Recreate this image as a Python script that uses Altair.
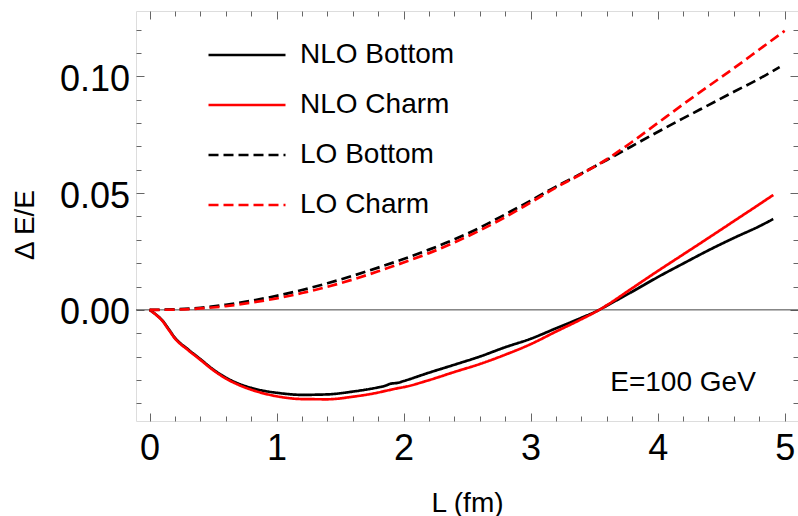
import altair as alt
import pandas as pd

# ---------------- data ----------------
SERIES = ["NLO Bottom", "NLO Charm", "LO Bottom", "LO Charm"]
COLORS = ["#000000", "#ff0000", "#000000", "#ff0000"]
DASHES = [[1, 0], [1, 0], [10, 5], [10, 5]]

L_NLO = [0.0, 0.05, 0.1, 0.15, 0.2, 0.3, 0.4, 0.5, 0.6, 0.7, 0.8, 0.9, 1.0, 1.2,
         1.4, 1.6, 1.8, 1.85, 1.9, 1.95, 2.0, 2.2, 2.4, 2.6, 2.8, 3.0, 3.2, 3.4,
         3.54, 3.6, 3.8, 4.0, 4.2, 4.4, 4.6, 4.8, 4.91]
NLO_BOTTOM = [0.0, -0.0020, -0.0045, -0.0082, -0.0120, -0.0168, -0.0211, -0.0255,
              -0.0290, -0.0316, -0.0334, -0.0347, -0.0355, -0.0364, -0.0362, -0.0350,
              -0.0332, -0.0326, -0.0316, -0.0313, -0.0305, -0.0269, -0.0235, -0.0200,
              -0.0160, -0.0124, -0.0079, -0.0034, 0.0, 0.0018, 0.0078, 0.0140, 0.0198,
              0.0255, 0.0308, 0.0358, 0.0389]
NLO_CHARM = [0.0, -0.0021, -0.0047, -0.0085, -0.0123, -0.0171, -0.0214, -0.0258,
             -0.0294, -0.0321, -0.0342, -0.0358, -0.0370, -0.0382, -0.0383, -0.0372,
             -0.0354, -0.0348, -0.0342, -0.0336, -0.0331, -0.0301, -0.0266, -0.0232,
             -0.0192, -0.0147, -0.0093, -0.0040, 0.0, 0.0020, 0.0093, 0.0166, 0.0237,
             0.0308, 0.0380, 0.0452, 0.0492]

L_LO_B = [0.0, 0.2, 0.4, 0.6, 0.8, 1.0, 1.2, 1.4, 1.6, 1.8, 2.0, 2.2, 2.4, 2.6, 2.8,
          3.0, 3.2, 3.4, 3.6, 3.8, 4.0, 4.2, 4.4, 4.6, 4.8, 4.96]
LO_BOTTOM = [0.0, 0.0002, 0.0009, 0.0022, 0.0039, 0.0060, 0.0085, 0.0114, 0.0146,
             0.0181, 0.0218, 0.0258, 0.0302, 0.0352, 0.0409, 0.0468, 0.0528, 0.0584,
             0.0642, 0.0702, 0.0762, 0.0820, 0.0877, 0.0934, 0.0990, 0.1040]
L_LO_C = [0.0, 0.2, 0.4, 0.6, 0.8, 1.0, 1.2, 1.4, 1.6, 1.8, 2.0, 2.2, 2.4, 2.6, 2.8,
          3.0, 3.2, 3.4, 3.6, 3.8, 4.0, 4.2, 4.4, 4.6, 4.8, 5.0]
LO_CHARM = [0.0, 0.0001, 0.0006, 0.0016, 0.0031, 0.0049, 0.0072, 0.0099, 0.0130,
            0.0165, 0.0203, 0.0243, 0.0289, 0.0340, 0.0397, 0.0460, 0.0524, 0.0582,
            0.0645, 0.0720, 0.0800, 0.0880, 0.0958, 0.1035, 0.1115, 0.1195]

X_MAJOR = [0, 1, 2, 3, 4, 5]
X_MINOR = [0.2, 0.4, 0.6, 0.8, 1.2, 1.4, 1.6, 1.8, 2.2, 2.4, 2.6, 2.8, 3.2, 3.4, 3.6,
           3.8, 4.2, 4.4, 4.6, 4.8]
Y_MAJOR = [0.0, 0.05, 0.10]
Y_MINOR = [-0.04, -0.03, -0.02, -0.01, 0.01, 0.02, 0.03, 0.04, 0.06, 0.07, 0.08,
           0.09, 0.11, 0.12]
X_TITLE = "L (fm)"
Y_TITLE = "Δ E/E"
ANNOTATION = ["E=100 GeV"]
ZERO = [0.0]

# ---------------- tables ----------------
rows = []
for name, xs, ys in [(SERIES[0], L_NLO, NLO_BOTTOM), (SERIES[1], L_NLO, NLO_CHARM),
                     (SERIES[2], L_LO_B, LO_BOTTOM), (SERIES[3], L_LO_C, LO_CHARM)]:
    for i, (a, b) in enumerate(zip(xs, ys)):
        rows.append({"series": name, "L": a, "v": b, "i": i})
df = pd.DataFrame(rows)
note_df = pd.DataFrame({"label": ANNOTATION})
zero_df = pd.DataFrame({"y0": ZERO})

FONT = "Liberation Sans"
TICK = "#666666"
X_SCALE = alt.Scale(domain=[-0.107, 5.105], nice=False, zero=False)
Y_SCALE = alt.Scale(domain=[-0.0476, 0.128], nice=False, zero=False)


def ax(orient, values, size, labels=False, **kw):
    return alt.Axis(orient=orient, values=values, offset=-size, tickSize=size,
                    tickColor=TICK, tickWidth=1, domain=False, grid=False,
                    labels=labels, labelFlush=False, labelOverlap=False, **kw)


x_bottom = ax("bottom", X_MAJOR, 8, labels=True, format="d", labelFont=FONT,
              labelFontSize=36, labelColor="black", labelPadding=10,
              title=X_TITLE, titleFont=FONT, titleFontSize=28,
              titleFontWeight="normal", titleColor="black", titleX=331,
              titleY=98, titleBaseline="alphabetic", titleAlign="center")
y_left = ax("left", Y_MAJOR, 8, labels=True, format=".2f", labelFont=FONT,
            labelFontSize=36, labelColor="black", labelPadding=6.5, labelOffset=3,
            title=Y_TITLE, titleFont=FONT, titleFontSize=28,
            titleFontWeight="normal", titleColor="black", titleX=-111,
            titleY=213.5, titleAngle=270, titleBaseline="alphabetic",
            titleAlign="center")


def carrier(xaxis, yaxis):
    return alt.Chart(df).mark_point(opacity=0).encode(
        x=alt.X("L:Q", scale=X_SCALE, axis=xaxis),
        y=alt.Y("v:Q", scale=Y_SCALE, axis=yaxis),
    )


axes_layers = [
    carrier(x_bottom, y_left),
    carrier(ax("bottom", X_MINOR, 5, title=None), ax("left", Y_MINOR, 5, title=None)),
    carrier(ax("top", X_MAJOR, 8, title=None), ax("right", Y_MAJOR, 8, title=None)),
    carrier(ax("top", X_MINOR, 5, title=None), ax("right", Y_MINOR, 5, title=None)),
]

zero_line = alt.Chart(zero_df).mark_rule(color="#444444", strokeWidth=1).encode(
    y=alt.Y("y0:Q", scale=Y_SCALE, axis=None)
)

legend = alt.Legend(title=None, orient="none", legendX=71, legendY=30,
                    symbolType="stroke", symbolSize=5929, symbolStrokeWidth=2.7,
                    labelFont=FONT, labelFontSize=28, labelColor="black",
                    labelOffset=13, rowPadding=22, clipHeight=28, padding=0,
                    offset=0, symbolOffset=0, labelLimit=400)

lines = alt.Chart(df).mark_line(strokeWidth=2.7, interpolate="monotone").encode(
    x=alt.X("L:Q", scale=X_SCALE, axis=None),
    y=alt.Y("v:Q", scale=Y_SCALE, axis=None),
    color=alt.Color("series:N", scale=alt.Scale(domain=SERIES, range=COLORS),
                    legend=legend),
    strokeDash=alt.StrokeDash("series:N", scale=alt.Scale(domain=SERIES, range=DASHES),
                              legend=legend),
    detail="series:N",
    order="i:Q",
)

note = alt.Chart(note_df).mark_text(font=FONT, fontSize=28, color="black",
                                    align="left", baseline="alphabetic").encode(
    text="label:N",
    x=alt.XDatum(3.627, type="quantitative", scale=X_SCALE, axis=None),
    y=alt.YDatum(-0.0348, type="quantitative", scale=Y_SCALE, axis=None),
)

chart = alt.layer(*axes_layers, zero_line, lines, note).resolve_axis(
    x="independent", y="independent"
).properties(
    width=662, height=410,
    autosize=alt.AutoSizeParams(type="none"),
    padding={"left": 136, "top": 11, "right": 0, "bottom": 95},
).configure_view(stroke=TICK, strokeWidth=1).configure(font=FONT, background="white")

chart.save("out.html", embed_options={"renderer": "svg", "actions": False})
